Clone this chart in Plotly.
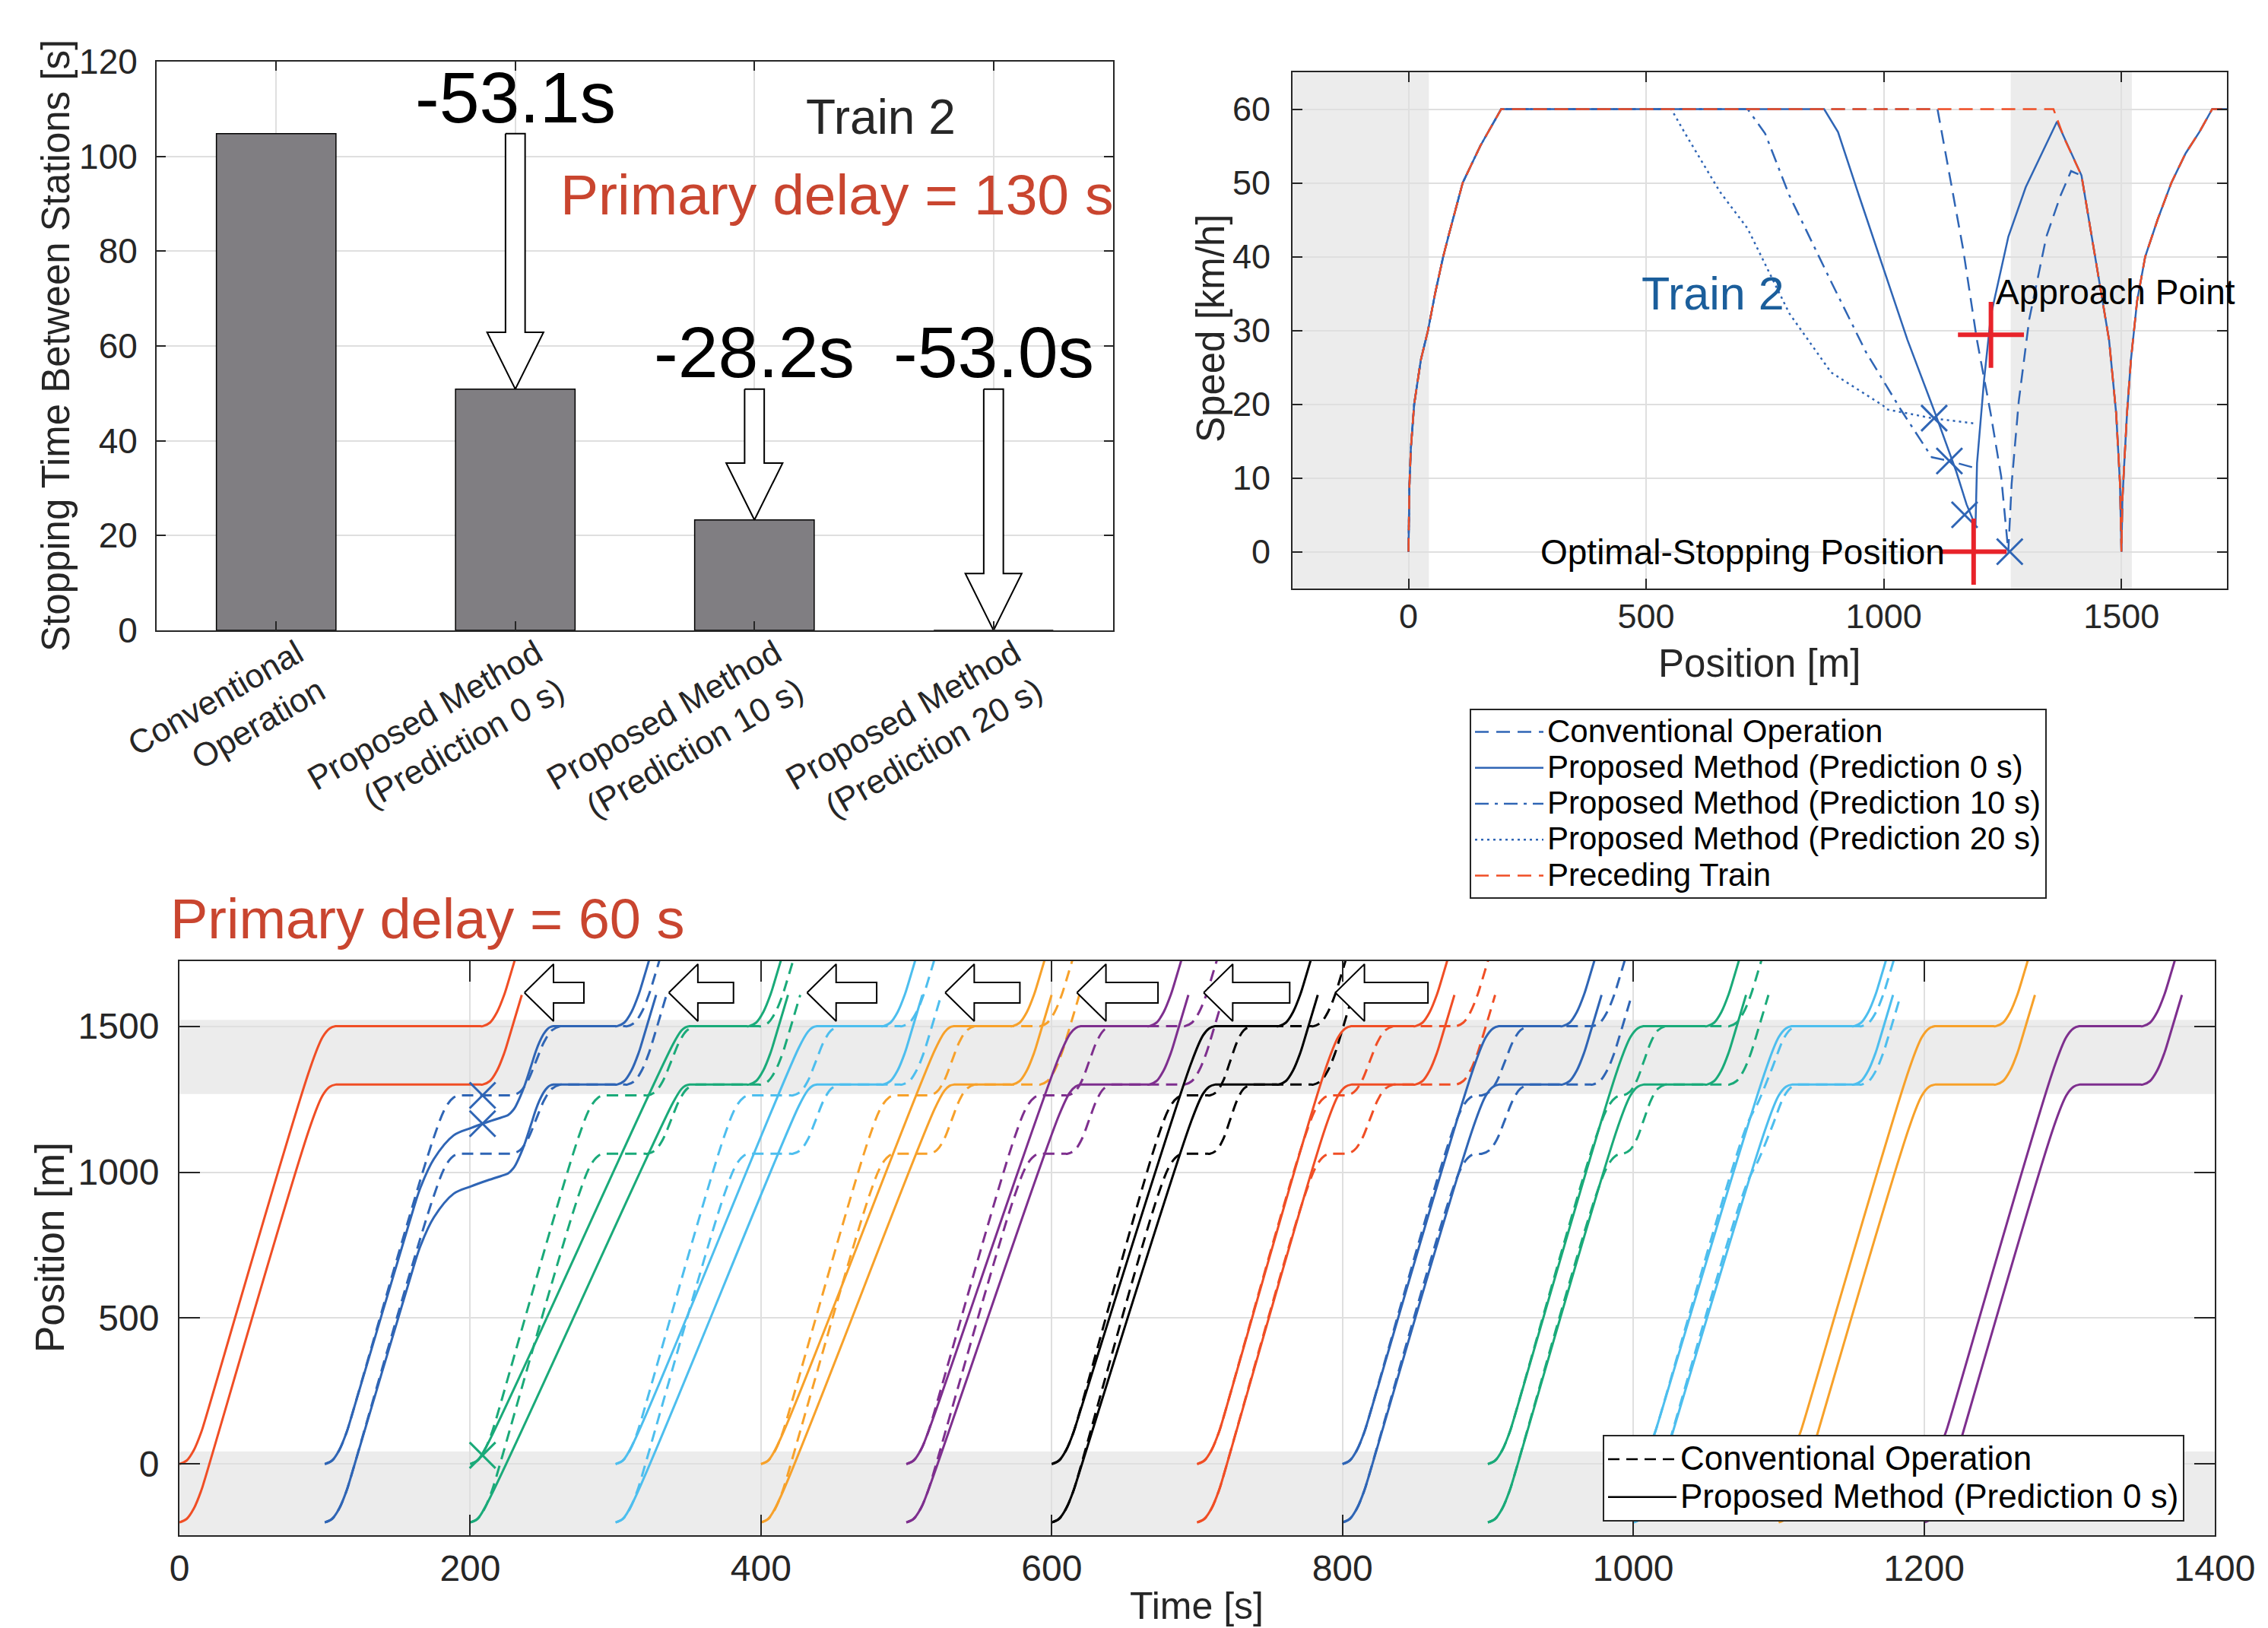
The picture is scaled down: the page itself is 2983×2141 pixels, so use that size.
import plotly.graph_objects as go

W, H = 2983, 2141
FONT = "Liberation Sans, Arial, Helvetica, sans-serif"
INK = "#262626"
GRID = "#DFDFDF"
BAND = "rgba(0,0,0,0.075)"
RED_TEXT = "#C9452F"

RED = "#F04E25"
BLUE = "#2F65B5"
GREEN = "#1AAA79"
LBLUE = "#4DBEEE"
ORANGE = "#F7A12A"
PURPLE = "#7E2F8E"
BLACK = "#000000"
MARK_RED = "#E8232A"
TRAIN2_BLUE = "#1B5E9B"

# ---------------- bar chart data ----------------
BAR_X = [1, 2, 3, 4]
BAR_LABELS = ["Conventional<br>Operation", "Proposed Method<br>(Prediction 0 s)",
              "Proposed Method<br>(Prediction 10 s)", "Proposed Method<br>(Prediction 20 s)"]
BAR_VALUES = [104.8, 50.9, 23.3, 0.0]
ARROW_X = [2, 3, 4]
ARROW_FROM = [104.8, 50.9, 50.9]
ARROW_TO = [50.9, 23.3, 0.0]
ARROW_TEXT = ["-53.1s", "-28.2s", "-53.0s"]
ARROW_TEXT_Y = [112.5, 58.7, 58.7]

# ---------------- speed chart data ----------------
ACC_POS = [0, 2, 5, 12, 26, 41, 56, 73, 85, 114, 151, 195]
ACC_SPD = [0, 9, 14, 20, 26, 30, 35, 40, 43, 50, 55, 60]
AFTER_POS = [1500, 1502, 1506, 1512, 1520, 1533, 1550, 1576, 1605, 1635, 1665, 1691, 1722]
AFTER_SPD = [0, 7, 12, 19, 26, 34, 40, 45, 50, 54, 57, 60, 60]
ARRIVE_POS = [1416, 1445, 1474, 1489, 1497]
ARRIVE_SPD = [51, 40, 28.7, 18.7, 9.2]

PRECEDING_POS = ACC_POS + [1357, 1380] + ARRIVE_POS + AFTER_POS
PRECEDING_SPD = ACC_SPD + [60, 56] + ARRIVE_SPD + AFTER_SPD

CONV_POS = ACC_POS + [1113, 1138, 1167, 1196, 1225, 1247, 1262, 1269, 1284, 1306, 1342, 1372, 1394] + ARRIVE_POS + AFTER_POS
CONV_SPD = ACC_SPD + [60, 51.1, 41, 28.7, 18.7, 10.2, 0, 9.2, 20.4, 31.5, 42.7, 48.3, 51.6] + ARRIVE_SPD + AFTER_SPD

PROP0_POS = ACC_POS + [874.5, 903.7, 947.7, 991.6, 1049.9, 1108.5, 1152.3, 1174.2, 1188.9, 1193,
                       1196.2, 1210.9, 1225.5, 1262.1, 1298.6, 1364.4] + ARRIVE_POS + AFTER_POS
PROP0_SPD = ACC_SPD + [60, 56.9, 48.3, 39.9, 28.7, 18.7, 10.9, 6.4, 4.2, 3.5,
                       12, 23.2, 32.1, 42.7, 49.4, 58.3] + ARRIVE_SPD + AFTER_SPD

PROP10_POS = ACC_POS + [713.6, 750.3, 801.3, 889.2, 962.2, 1035.4, 1101.1, 1137.7, 1188.9]
PROP10_SPD = ACC_SPD + [60, 56.7, 48.3, 36.6, 27.1, 19.3, 12.8, 12.3, 11.4]

PROP20_POS = ACC_POS + [552.8, 582, 655.1, 713.6, 801.3, 889.2, 998.7, 1006, 1101.1, 1188.9]
PROP20_SPD = ACC_SPD + [60, 56.7, 48.8, 43.8, 32.3, 24.3, 19.8, 19.3, 18.1, 17.4]

SPD_X_POS = [1106, 1138, 1170, 1265]
SPD_X_SPD = [18.1, 12.3, 5.0, 0.0]
PLUS_POS = [1225.5, 1189]
PLUS_SPD = [29.4, 0.0]

# ---------------- time-space data ----------------
TRAIN_LENGTH = 200
STATION_POS = 1500
SIGNAL_POS = 1263
TRAIN_START = [0, 100, 200, 300, 400, 500, 600, 700, 800, 900, 1000, 1100, 1200]
TRAIN_COLOR = [RED, BLUE, GREEN, LBLUE, ORANGE, PURPLE, BLACK, RED, BLUE, GREEN, LBLUE, ORANGE, PURPLE]

# shape templates read from the undisturbed first train (dt [s], dpos [m])
START_DT = [0, 5, 10, 15, 17.2]
START_DP = [0, 12, 48.5, 109, 143.5]
STOP_DT = [-17.8, -8.9, -4, 0]
STOP_DP = [-148, -37, -7.5, 0]
DEPART_DT = [0, 5, 10, 15, 17.2, 27]
DEPART_DP = [0, 12, 48.5, 109, 143.5, 307]
HOP_DT = [0, 5, 10, 15.5, 21, 26, 31.5]
HOP_DP = [0, 12, 48.5, 116.5, 185, 223, 237]

# proposed method (solid): arrival / departure at station (front of train)
PROP_ARRIVE = [107.4, 257.3, 351.0, 438.6, 532.8, 620.0, 712.3, 806.0, 907.6, 1007.0, 1109.0, 1207.5, 1306.8]
PROP_DEPART = [208.5, 300.9, 391.6, 484.0, 572.9, 667.0, 756.0, 850.0, 951.2, 1050.6, 1151.7, 1249.3, 1350.4]
# explicit approach waypoints (time, front position) for trains that do not run the standard profile
PROP_APPROACH = {
    1: [(100, 0), (105, 12), (110, 48.5), (115, 109), (117.2, 143.5), (161, 875), (166, 950), (175, 1045),
        (188.6, 1126), (200.3, 1151), (212, 1172), (224.3, 1192), (226.2, 1196), (229.3, 1211), (231.2, 1225),
        (234.7, 1262), (237.6, 1299), (241.9, 1364), (245.3, 1416), (247.6, 1445), (250.6, 1474),
        (252.9, 1489), (255, 1497), (257.3, 1500)],
    2: [(200, 0), (205, 12), (211, 59), (339.6, 1439), (345.3, 1485), (348, 1496), (351, 1500)],
    3: [(300, 0), (305, 12), (312.2, 72), (426, 1426), (432.3, 1481), (435.6, 1496), (438.6, 1500)],
    4: [(400, 0), (405, 12), (412.9, 81), (519.5, 1417), (526.2, 1479), (529.8, 1496), (532.8, 1500)],
    5: [(500, 0), (505, 12), (510, 48.5), (514.4, 101), (605.1, 1396), (612.6, 1474), (616.5, 1494), (620, 1500)],
    6: [(600, 0), (605, 12), (610, 48.5), (615, 109), (616, 124), (695.8, 1372), (704, 1468),
        (708.3, 1492.5), (712.3, 1500)],
}

# conventional operation (dashed)
CONV_SIGNAL_ARRIVE = [None, 192.5, 292.0, 392.0, 492.0, 592.0, 690.5, 791.5, 891.8, 991.8, None, None, None]
CONV_SIGNAL_DEPART = [None, 229.0, 322.0, 422.0, 516.0, 611.0, 708.9, 803.0, 896.0, 993.0, None, None, None]
CONV_ARRIVE = [None, 262.0, 355.0, 454.0, 547.0, 641.0, 737.0, 835.0, 928.0, 1022.0, 1113.0, None, None]
CONV_DEPART = [None, 308.0, 400.0, 497.0, 592.0, 691.4, 780.0, 878.0, 972.0, 1066.0, 1157.0, None, None]
CONV_VIA = {10: [(1078, 1159), (1086, 1240)]}

# markers at the departure instant of the delayed train
TS_X_T = [208.5, 208.5, 208.5]
TS_X_P = [1263, 1166, 30]
TS_X_COLOR = [BLUE, BLUE, GREEN]

# block arrows (time of tip / tail)
TS_ARROW_TIP = [237.3, 336.6, 431.7, 526.7, 617.3, 704.5, 795.1]
TS_ARROW_TAIL = [278.2, 381.1, 479.6, 578.1, 673.1, 763.7, 858.8]
TS_ARROW_Y = 1615


def px(x):
    return x / W


def py(y):
    return 1 - y / H


def shifted(t0, p0, dts, dps):
    return [(t0 + a, p0 + b) for a, b in zip(dts, dps)]


def tidy(points):
    points = sorted(points, key=lambda q: q[0])
    out = []
    for q in points:
        if out and abs(q[0] - out[-1][0]) < 0.4:
            continue
        out.append(q)
    return out


def hold(t_a, t_d, p):
    if t_d - t_a > 6:
        return [(t_a + 1.5, p), (t_d - 1.5, p)]
    return []


def hop(t0, t1, p0):
    k = (t1 - t0) / HOP_DT[-1]
    return [(t0 + a * k, p0 + b) for a, b in zip(HOP_DT, HOP_DP)]


def prop_front(i):
    T = TRAIN_START[i]
    if i in PROP_APPROACH:
        pts = list(PROP_APPROACH[i])
    else:
        pts = shifted(T, 0, START_DT, START_DP) + shifted(PROP_ARRIVE[i], STATION_POS, STOP_DT, STOP_DP)
    pts += hold(PROP_ARRIVE[i], PROP_DEPART[i], STATION_POS)
    pts += shifted(PROP_DEPART[i], STATION_POS, DEPART_DT, DEPART_DP)
    return tidy(pts)


def conv_front(i):
    T = TRAIN_START[i]
    pts = shifted(T, 0, START_DT, START_DP)
    if CONV_SIGNAL_ARRIVE[i] is not None:
        pts += shifted(CONV_SIGNAL_ARRIVE[i], SIGNAL_POS, STOP_DT, STOP_DP)
        pts += hold(CONV_SIGNAL_ARRIVE[i], CONV_SIGNAL_DEPART[i], SIGNAL_POS)
        pts += hop(CONV_SIGNAL_DEPART[i], CONV_ARRIVE[i], SIGNAL_POS)
    else:
        pts += CONV_VIA.get(i, [])
        pts += shifted(CONV_ARRIVE[i], STATION_POS, STOP_DT, STOP_DP)
    pts += hold(CONV_ARRIVE[i], CONV_DEPART[i], STATION_POS)
    pts += shifted(CONV_DEPART[i], STATION_POS, DEPART_DT, DEPART_DP)
    return tidy(pts)


def front_and_tail(pts):
    xs = [q[0] for q in pts] + [None] + [q[0] for q in pts]
    ys = [q[1] for q in pts] + [None] + [q[1] - TRAIN_LENGTH for q in pts]
    return xs, ys


def big(name, size):
    return '<span style="font-size:%dpx">%s</span>' % (size, name)


fig = go.Figure()

# ---------------- bar chart ----------------
fig.add_trace(go.Bar(x=BAR_X, y=BAR_VALUES, width=0.5,
                     marker=dict(color="#807E82", line=dict(color="black", width=1.5)),
                     xaxis="x", yaxis="y", showlegend=False, hoverinfo="skip"))
SHAFT_W, HEAD_W, HEAD_L = 0.041, 0.118, 12
for c, top, tip in zip(ARROW_X, ARROW_FROM, ARROW_TO):
    ax = [c - SHAFT_W, c + SHAFT_W, c + SHAFT_W, c + HEAD_W, c, c - HEAD_W, c - SHAFT_W, c - SHAFT_W]
    ay = [top, top, tip + HEAD_L, tip + HEAD_L, tip, tip + HEAD_L, tip + HEAD_L, top]
    fig.add_trace(go.Scatter(x=ax, y=ay, mode="lines", fill="toself", fillcolor="white",
                             line=dict(color="black", width=2), xaxis="x", yaxis="y",
                             showlegend=False, hoverinfo="skip"))

# ---------------- speed chart ----------------
speed_lines = [
    ("Conventional Operation", CONV_POS, CONV_SPD, BLUE, "18px,10px"),
    ("Proposed Method (Prediction 0 s)", PROP0_POS, PROP0_SPD, BLUE, "solid"),
    ("Proposed Method (Prediction 10 s)", PROP10_POS, PROP10_SPD, BLUE, "18px,8px,4px,8px"),
    ("Proposed Method (Prediction 20 s)", PROP20_POS, PROP20_SPD, BLUE, "3px,5px"),
    ("Preceding Train", PRECEDING_POS, PRECEDING_SPD, RED, "18px,10px"),
]
for name, xs, ys, col, dash in speed_lines:
    fig.add_trace(go.Scatter(x=xs, y=ys, mode="lines", name=big(name, 42),
                             line=dict(color=col, width=2.5, dash=dash),
                             xaxis="x2", yaxis="y2", legend="legend", hoverinfo="skip"))
fig.add_trace(go.Scatter(x=SPD_X_POS, y=SPD_X_SPD, mode="markers",
                         marker=dict(symbol="x-thin", size=34, line=dict(color=BLUE, width=3)),
                         xaxis="x2", yaxis="y2", showlegend=False, hoverinfo="skip"))
fig.add_trace(go.Scatter(x=PLUS_POS, y=PLUS_SPD, mode="markers",
                         marker=dict(symbol="cross-thin", size=62, line=dict(color=MARK_RED, width=6)),
                         xaxis="x2", yaxis="y2", showlegend=False, hoverinfo="skip"))

# ---------------- time-space diagram ----------------
for i, col in enumerate(TRAIN_COLOR):
    if CONV_ARRIVE[i] is not None:
        xs, ys = front_and_tail(conv_front(i))
        fig.add_trace(go.Scatter(x=xs, y=ys, mode="lines",
                                 line=dict(color=col, width=3, dash="15px,9px", shape="spline", smoothing=1),
                                 xaxis="x3", yaxis="y3", showlegend=False, hoverinfo="skip"))
for i, col in enumerate(TRAIN_COLOR):
    xs, ys = front_and_tail(prop_front(i))
    fig.add_trace(go.Scatter(x=xs, y=ys, mode="lines",
                             line=dict(color=col, width=3, shape="spline", smoothing=1),
                             xaxis="x3", yaxis="y3", showlegend=False, hoverinfo="skip"))

fig.add_trace(go.Scatter(x=TS_X_T, y=TS_X_P, mode="markers",
                         marker=dict(symbol="x-thin", size=34, line=dict(color=TS_X_COLOR, width=3)),
                         xaxis="x3", yaxis="y3", showlegend=False, hoverinfo="skip"))

A_HEAD_L, A_HEAD_H, A_SHAFT_H = 20, 98, 35
for tip, tail in zip(TS_ARROW_TIP, TS_ARROW_TAIL):
    yc = TS_ARROW_Y
    ax = [tip, tip + A_HEAD_L, tip + A_HEAD_L, tail, tail, tip + A_HEAD_L, tip + A_HEAD_L, tip]
    ay = [yc, yc + A_HEAD_H, yc + A_SHAFT_H, yc + A_SHAFT_H, yc - A_SHAFT_H, yc - A_SHAFT_H, yc - A_HEAD_H, yc]
    fig.add_trace(go.Scatter(x=ax, y=ay, mode="lines", fill="toself", fillcolor="white",
                             line=dict(color="black", width=2), xaxis="x3", yaxis="y3",
                             showlegend=False, hoverinfo="skip"))

fig.add_trace(go.Scatter(x=[None], y=[None], mode="lines", name=big("Conventional Operation", 44),
                         line=dict(color="black", width=2.5, dash="15px,9px"),
                         xaxis="x3", yaxis="y3", legend="legend2"))
fig.add_trace(go.Scatter(x=[None], y=[None], mode="lines", name=big("Proposed Method (Prediction 0 s)", 44),
                         line=dict(color="black", width=2.5),
                         xaxis="x3", yaxis="y3", legend="legend2"))


def axis(ticklen, fsize, standoff, **kw):
    d = dict(showline=True, linecolor=INK, linewidth=2, mirror="ticks", ticks="inside",
             ticklen=ticklen, tickwidth=2, tickcolor=INK, showgrid=True, gridcolor=GRID,
             gridwidth=1.5, zeroline=False, ticklabelstandoff=standoff, automargin=False,
             tickfont=dict(family=FONT, size=fsize, color=INK))
    d.update(kw)
    return d


shapes = []
for x0, x1 in [(-244, 43), (1267, 1522)]:
    shapes.append(dict(type="rect", xref="x2", yref="y2 domain", x0=x0, x1=x1, y0=0, y1=1,
                       fillcolor=BAND, line=dict(width=0), layer="below"))
for y0, y1 in [(-244, 43), (1268, 1522)]:
    shapes.append(dict(type="rect", xref="x3 domain", yref="y3", x0=0, x1=1, y0=y0, y1=y1,
                       fillcolor=BAND, line=dict(width=0), layer="below"))


def note(x, y, text, size, color=INK, xref="paper", yref="paper", xanchor="center", angle=0):
    return dict(x=x, y=y, xref=xref, yref=yref, text=text, showarrow=False, xanchor=xanchor,
                yanchor="middle", textangle=angle, font=dict(family=FONT, size=size, color=color))


annotations = []
for x, y, t in zip(ARROW_X, ARROW_TEXT_Y, ARROW_TEXT):
    annotations.append(note(x, y, t, 95, "black", "x", "y"))
annotations += [
    note(3.53, 108.3, "Train 2", 64, INK, "x", "y"),
    note(3.344, 92.0, "Primary delay = 130 s", 75, RED_TEXT, "x", "y"),
    note(px(66), py(447), "Stopping Time Between Stations [s]", 51, angle=-90),
    # speed chart
    note(640, 35, "Train 2", 61, TRAIN2_BLUE, "x2", "y2"),
    note(1232, 35.2, "Approach Point", 46, "black", "x2", "y2", xanchor="left"),
    note(1131, 0, "Optimal-Stopping Position", 46, "black", "x2", "y2", xanchor="right"),
    note(px(1585), py(424), "Speed [km/h]", 51, angle=-90),
    note(px(2306), py(864), "Position [m]", 51),
    # time-space
    note(px(214), py(1200), "Primary delay = 60 s", 74, RED_TEXT, xanchor="left"),
    note(px(57), py(1633), "Position [m]", 53, angle=-90),
    note(px(1566), py(2104), "Time [s]", 50),
]

fig.update_layout(
    width=W, height=H, margin=dict(l=0, r=0, t=0, b=0, autoexpand=False),
    paper_bgcolor="white", plot_bgcolor="white",
    font=dict(family=FONT, color=INK),
    xaxis=axis(12, 44, -14, domain=[px(198), px(1456)], range=[0.5, 4.5], tickvals=BAR_X,
               ticktext=BAR_LABELS, tickangle=-30, ticklabelshift=28, anchor="y"),
    yaxis=axis(12, 46, 14, domain=[py(821), py(73)], range=[0, 120],
               tickvals=[0, 20, 40, 60, 80, 100, 120], anchor="x"),
    xaxis2=axis(13, 45, -4, domain=[px(1692), px(2921)], range=[-244, 1722],
                tickvals=[0, 500, 1000, 1500], anchor="y2"),
    yaxis2=axis(13, 45, 18, domain=[py(766), py(87)], range=[-5, 65],
                tickvals=[0, 10, 20, 30, 40, 50, 60], anchor="x2"),
    xaxis3=axis(27, 48, 0, domain=[px(228), px(2905)], range=[0, 1400],
                tickvals=[0, 200, 400, 600, 800, 1000, 1200, 1400], anchor="y3"),
    yaxis3=axis(27, 48, 15, domain=[py(2011), py(1256)], range=[-244, 1723],
                tickvals=[0, 500, 1000, 1500], anchor="x3"),
    legend=dict(x=px(1925), y=py(924), xanchor="left", yanchor="top", bgcolor="white",
                bordercolor=INK, borderwidth=2, font=dict(family=FONT, size=34, color="black"),
                tracegroupgap=0, itemwidth=90),
    legend2=dict(x=px(2100), y=py(1879), xanchor="left", yanchor="top", bgcolor="white",
                 bordercolor=INK, borderwidth=2, font=dict(family=FONT, size=36, color="black"),
                 tracegroupgap=0, itemwidth=90),
    shapes=shapes, annotations=annotations,
)

fig.write_html("out.html")
